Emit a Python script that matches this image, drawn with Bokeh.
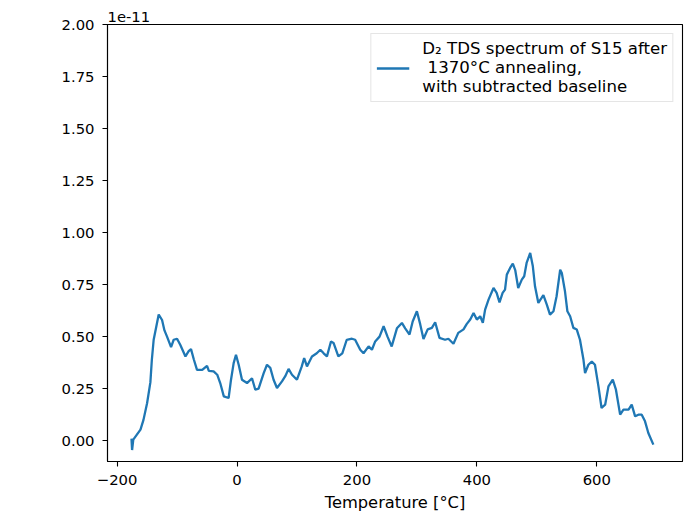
from bokeh.plotting import figure
from bokeh.models import Range1d, FixedTicker, Legend, LegendItem
from bokeh.embed import file_html
from bokeh.resources import INLINE

# Temperature [°C]
temperature = [-176, -175, -173, -167, -161, -156, -150, -144.5, -142, -139, -134.5, -130.6,
               -125, -121, -116.7, -110, -105.6, -100, -94.5, -86, -80.6, -76.7, -72, -66.7,
               -58, -50, -47, -39, -33, -28, -22, -14, -10, -5.6, -1.7, 2.8, 8.3, 16.7, 25,
               30.5, 36, 44.5, 50, 55.5, 61, 66.7, 75, 80.5, 86, 91.7, 100, 108, 112, 116.7,
               125, 133, 139, 144.5, 150, 156.7, 161, 169, 175.6, 183, 191.7, 197, 205.5, 211,
               219.5, 225, 230.5, 237.7, 244.5, 251, 258, 266.7, 275, 280.5, 287.7, 293, 300,
               305.5, 311, 318, 325, 330.5, 337.7, 347, 352.5, 361, 369, 377.8, 383, 389,
               394.5, 400, 405.6, 410, 413.8, 419.5, 427.8, 433, 437.8, 443, 447, 450, 455.5,
               460, 464, 469, 475, 479, 483, 489, 493.4, 497, 502.6, 508, 511, 516.7, 522,
               527.8, 533, 539, 541.7, 547, 551, 555.6, 561, 566.7, 572, 577.8, 580.5, 586,
               591.7, 597, 602.8, 608, 614, 619.5, 626.7, 632, 639, 644.5, 653, 658.3, 664,
               669.5, 675, 680.5, 686, 694.4]

# D2 desorption signal, in units of 1e-11
signal = [0.01, -0.045, 0.005, 0.029, 0.053, 0.10, 0.18, 0.28, 0.39, 0.485, 0.55, 0.606,
          0.58, 0.53, 0.50, 0.45, 0.485, 0.49, 0.46, 0.405, 0.43, 0.44, 0.39, 0.34,
          0.34, 0.36, 0.335, 0.333, 0.317, 0.277, 0.213, 0.205, 0.293, 0.373, 0.413, 0.365,
          0.293, 0.277, 0.30, 0.245, 0.25, 0.325, 0.365, 0.35, 0.293, 0.253, 0.285, 0.31,
          0.345, 0.317, 0.293, 0.357, 0.397, 0.357, 0.405, 0.42, 0.437, 0.42, 0.405, 0.477,
          0.47, 0.405, 0.42, 0.485, 0.49, 0.485, 0.437, 0.42, 0.453, 0.437, 0.477, 0.50,
          0.55, 0.50, 0.453, 0.54, 0.566, 0.54, 0.51, 0.573, 0.622, 0.56, 0.489, 0.535,
          0.542, 0.569, 0.494, 0.485, 0.49, 0.466, 0.518, 0.535, 0.56, 0.582, 0.614, 0.582,
          0.598, 0.566, 0.63, 0.678, 0.734, 0.71, 0.665, 0.71, 0.726, 0.798, 0.83, 0.851,
          0.82, 0.734, 0.774, 0.79, 0.854, 0.902, 0.838, 0.742, 0.662, 0.686, 0.70, 0.654,
          0.606, 0.622, 0.694, 0.822, 0.806, 0.718, 0.622, 0.598, 0.542, 0.534, 0.485, 0.39,
          0.325, 0.365, 0.38, 0.365, 0.261, 0.157, 0.173, 0.261, 0.293, 0.245, 0.125, 0.149,
          0.149, 0.173, 0.117, 0.125, 0.125, 0.093, 0.037, -0.019]

x_ticks = [-200, 0, 200, 400, 600]
y_ticks = [0.0, 0.25, 0.5, 0.75, 1.0, 1.25, 1.5, 1.75, 2.0]
legend_label = "D\u2082 TDS spectrum of S15 after\n 1370\u00b0C annealing,\nwith subtracted baseline"
x_label = "Temperature [\u00b0C]"
offset_text = "1e-11"

FONT = "DejaVu Sans"
TICK_FS = "14.8px"
LABEL_FS = "16.3px"
LEGEND_FS = "16.6px"

x_lo, x_hi = -216, 743
y_lo, y_hi = -0.1, 2.0

p = figure(width=685, height=514, output_backend="svg", toolbar_location=None,
           x_range=Range1d(x_lo, x_hi), y_range=Range1d(y_lo, y_hi),
           min_border_left=107, min_border_right=3, min_border_top=24, min_border_bottom=52,
           background_fill_color="white", border_fill_color="white")

# scale (offset) text above the top-left corner of the axes
p.title.text = offset_text
p.title.align = "left"
p.title.vertical_align = "middle"
p.title.text_font = FONT
p.title.text_font_size = TICK_FS
p.title.text_font_style = "normal"
p.title.text_color = "black"
p.title.standoff = 3

p.grid.visible = False
p.outline_line_color = "black"
p.outline_line_width = 1.1
p.outline_line_alpha = 1.0

for ax in (p.xaxis[0], p.yaxis[0]):
    ax.axis_line_color = "black"
    ax.axis_line_width = 1.1
    ax.major_tick_line_color = "black"
    ax.major_tick_line_width = 1.1
    ax.major_tick_out = 5
    ax.major_tick_in = 0
    ax.minor_tick_line_color = None
    ax.major_label_text_font = FONT
    ax.major_label_text_font_size = TICK_FS
    ax.major_label_text_color = "black"
    ax.major_label_standoff = 8

p.xaxis.ticker = FixedTicker(ticks=x_ticks)
p.yaxis.ticker = FixedTicker(ticks=y_ticks)
p.yaxis.major_label_overrides = {t: f"{t:.2f}" for t in y_ticks}
p.xaxis.axis_label = x_label
p.xaxis.axis_label_text_font = FONT
p.xaxis.axis_label_text_font_size = LABEL_FS
p.xaxis.axis_label_text_font_style = "normal"
p.xaxis.axis_label_text_color = "black"
p.xaxis.axis_label_standoff = 5

r = p.line(temperature, signal, line_color="#1f77b4", line_width=2.3)

legend = Legend(items=[LegendItem(label=legend_label, renderers=[r])],
                location="top_right", margin=9, padding=5, spacing=0,
                glyph_width=33, label_standoff=13,
                label_text_font=FONT, label_text_font_size=LEGEND_FS,
                label_text_color="black",
                border_line_color="#cccccc", border_line_width=1,
                background_fill_color="white", background_fill_alpha=0.8)
p.add_layout(legend)

open("out.html", "w").write(file_html(p, INLINE))
